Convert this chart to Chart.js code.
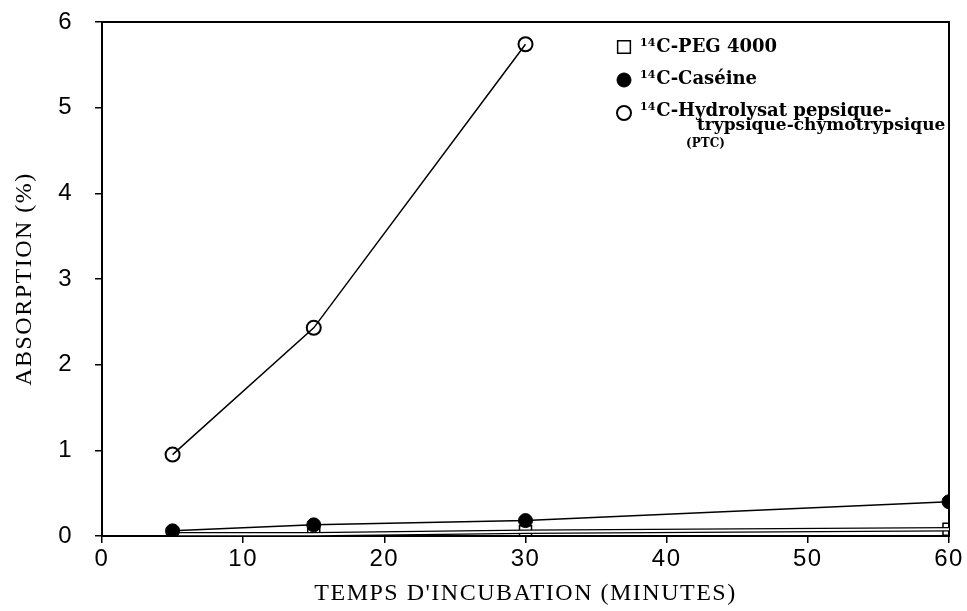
<!DOCTYPE html>
<html><head><meta charset="utf-8">
<script src="https://cdn.jsdelivr.net/npm/chart.js@4.4.1/dist/chart.umd.min.js"></script>
<style>html,body{margin:0;padding:0;background:#fff;}#wrap{position:relative;width:967px;height:611px;}</style>
</head><body><div id="wrap"><canvas id="c" width="967" height="611"></canvas></div>
<script>
const xTicks = [0, 10, 20, 30, 40, 50, 60];
const yTicks = [0, 1, 2, 3, 4, 5, 6];
const pegTimes = [5, 15, 30, 60];
const pegValues = [0.02, 0.02, 0.05, 0.08];
const caseinTimes = [5, 15, 30, 60];
const caseinValues = [0.06, 0.13, 0.18, 0.40];
const ptcTimes = [5, 15, 30];
const ptcValues = [0.95, 2.43, 5.74];
const xTitle = "TEMPS D'INCUBATION (MINUTES)";
const yTitle = "ABSORPTION (%)";
const legendLines = [
  {marker: 'peg', sup: '14', text: 'C-PEG 4000'},
  {marker: 'casein', sup: '14', text: 'C-Caséine'},
  {marker: 'ptc', sup: '14', text: 'C-Hydrolysat pepsique-'},
  {marker: null, sup: '', text: 'trypsique-chymotrypsique'},
  {marker: null, sup: '', text: '(PTC)', small: true}
];

const toPts = (xs, ys) => xs.map((x, i) => ({x: x, y: ys[i]}));

const styles = {
  peg: {pointStyle: 'rect', radius: 8.5, fill: 'rgba(0,0,0,0)', bw: 1.5},
  casein: {pointStyle: 'circle', radius: 7, fill: '#000', bw: 1},
  ptc: {pointStyle: 'circle', radius: 7, fill: 'rgba(0,0,0,0)', bw: 2}
};

function ds(label, pts, st, order, lw) {
  return {
    label: label, data: pts, borderColor: '#000', borderWidth: lw || 1.5, tension: 0, order: order,
    pointStyle: st.pointStyle, pointRadius: st.radius, pointHoverRadius: st.radius,
    pointBackgroundColor: st.fill, pointBorderColor: '#000', pointBorderWidth: st.bw,
    fill: false
  };
}

function zeroPad(s) { s.paddingTop = 0; s.paddingBottom = 0; s.paddingLeft = 0; s.paddingRight = 0; }

const legendPlugin = {
  id: 'customLegend',
  beforeDraw(chart) { chart.ctx.letterSpacing = '1.5px'; },
  afterDraw(chart) {
    const ctx = chart.ctx;
    ctx.save();
    ctx.letterSpacing = '0px';
    ctx.fillStyle = '#000';
    ctx.strokeStyle = '#000';
    const pos = [
      {mx: 624, my: 47, x: 640, y: 52, size: 18},
      {mx: 624, my: 80, x: 640, y: 84, size: 18},
      {mx: 624, my: 113, x: 640, y: 116, size: 18},
      {x: 697, y: 130, size: 17},
      {x: 686, y: 147, size: 12}
    ];
    legendLines.forEach((ln, i) => {
      const p = pos[i];
      if (ln.marker) {
        const st = styles[ln.marker];
        ctx.save();
        ctx.fillStyle = st.fill;
        ctx.strokeStyle = '#000';
        ctx.lineWidth = st.bw;
        Chart.helpers.drawPoint(ctx, {pointStyle: st.pointStyle, radius: st.pointStyle === 'rect' ? 9 : 7, borderWidth: st.bw, rotation: 0}, p.mx, p.my);
        ctx.restore();
      }
      ctx.textBaseline = 'alphabetic';
      ctx.textAlign = 'left';
      let x = p.x;
      if (ln.sup) {
        ctx.font = 'bold 11px "DejaVu Serif"';
        ctx.fillText(ln.sup, x, p.y - 6);
        x += ctx.measureText(ln.sup).width + 1;
      }
      ctx.font = 'bold ' + p.size + 'px "DejaVu Serif"';
      ctx.fillText(ln.text, x, p.y);
    });
    ctx.restore();
  }
};

const axisCommon = {
  type: 'linear',
  grid: {drawOnChartArea: false, drawTicks: true, color: '#000', lineWidth: 1.5},
  border: {display: true, color: '#000', width: 2}
};

const pegInner = {
  label: 'PEG inner', data: toPts(pegTimes, pegValues), borderColor: '#fff', borderWidth: 2,
  tension: 0, order: 1, pointRadius: 0, pointHoverRadius: 0, fill: false
};

new Chart(document.getElementById('c'), {
  type: 'line',
  data: {
    datasets: [
      ds('14C-Caséine', toPts(caseinTimes, caseinValues), styles.casein, 0),
      pegInner,
      ds('14C-PEG 4000', toPts(pegTimes, pegValues), styles.peg, 2, 4.5),
      ds('14C-Hydrolysat PTC', toPts(ptcTimes, ptcValues), styles.ptc, 0)
    ]
  },
  options: {
    responsive: false, animation: false, devicePixelRatio: 1,
    layout: {padding: {top: 22, right: 18, left: 0, bottom: 0}},
    plugins: {legend: {display: false}, tooltip: {enabled: false}, title: {display: false}},
    scales: {
      x: Object.assign({}, axisCommon, {
        position: 'bottom', min: 0, max: 60,
        afterBuildTicks(s) { s.ticks = xTicks.map(v => ({value: v})); },
        afterFit(s) { s.height = 75; zeroPad(s); },
        grid: Object.assign({}, axisCommon.grid, {tickLength: 7}),
        ticks: {color: '#000', padding: 2, font: {family: '"Liberation Sans", Arial', size: 24}, maxRotation: 0},
        title: {display: true, text: xTitle, color: '#000', font: {family: '"Liberation Serif", "Times New Roman"', size: 24}, padding: {top: 0, bottom: 3}}
      }),
      y: Object.assign({}, axisCommon, {
        position: 'left', min: 0, max: 6,
        afterBuildTicks(s) { s.ticks = yTicks.map(v => ({value: v})); },
        afterFit(s) { s.width = 102; zeroPad(s); },
        grid: Object.assign({}, axisCommon.grid, {tickLength: 7}),
        ticks: {color: '#000', padding: 22, font: {family: '"Liberation Sans", Arial', size: 24}},
        title: {display: true, text: yTitle, color: '#000', font: {family: '"Liberation Serif", "Times New Roman"', size: 24}, padding: {top: 10, bottom: 0}}
      }),
      x2: {
        type: 'linear', position: 'top', min: 0, max: 60,
        ticks: {display: false}, grid: {display: false, drawTicks: false},
        border: {display: true, color: '#000', width: 2},
        afterFit(s) { s.height = 0; zeroPad(s); }
      },
      y2: {
        type: 'linear', position: 'right', min: 0, max: 6,
        ticks: {display: false}, grid: {display: false, drawTicks: false},
        border: {display: true, color: '#000', width: 2},
        afterFit(s) { s.width = 0; zeroPad(s); }
      }
    }
  },
  plugins: [legendPlugin]
});
</script></body></html>
